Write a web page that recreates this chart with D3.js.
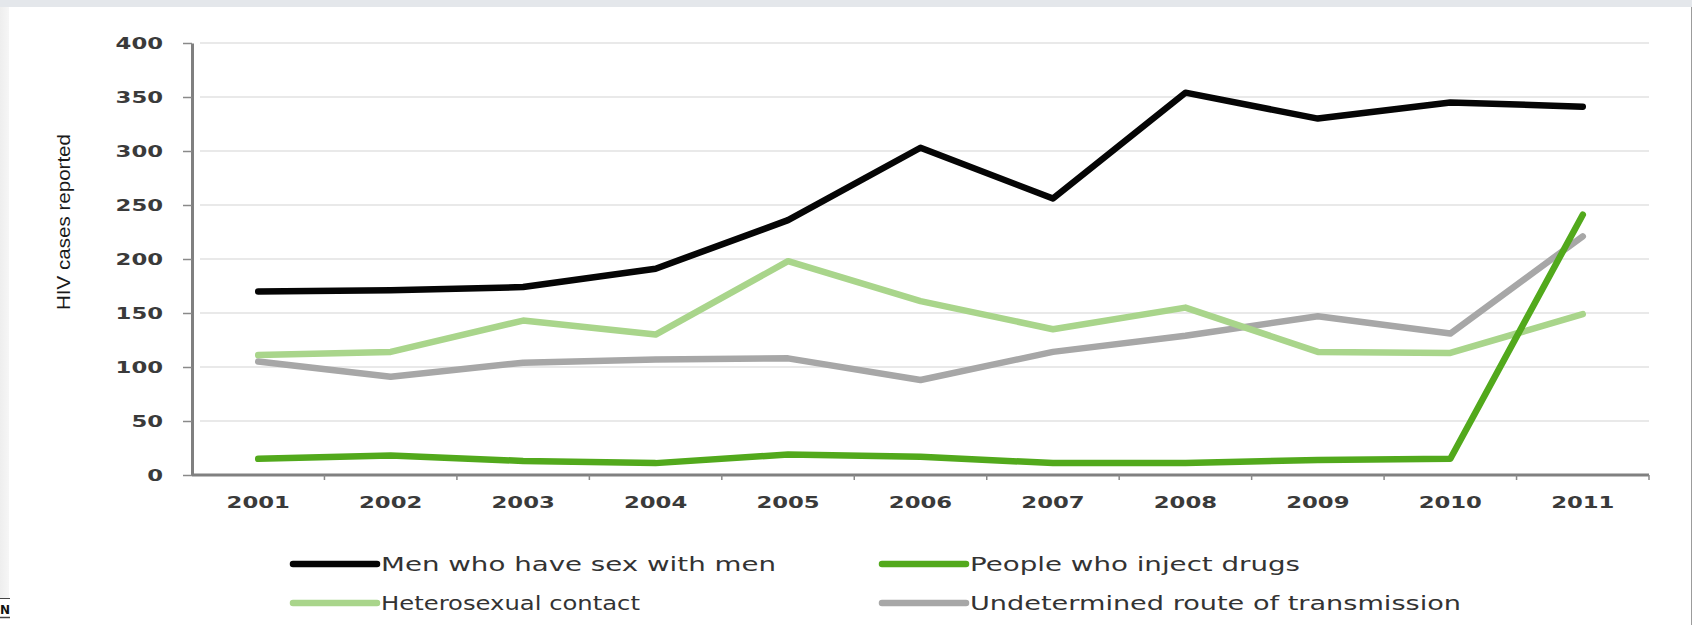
<!DOCTYPE html>
<html>
<head>
<meta charset="utf-8">
<script src="https://cdn.jsdelivr.net/npm/d3@7"></script>
<style>
  html, body { margin: 0; padding: 0; background: #fff; }
  svg { display: block; }
</style>
</head>
<body>
<svg id="chart" width="1692" height="625"></svg>
<script>
// Reported HIV cases by route of transmission, 2001-2011
const years = ["2001","2002","2003","2004","2005","2006","2007","2008","2009","2010","2011"];
const msm          = [170, 171, 174, 191, 236, 303, 256, 354, 330, 345, 341];
const injectDrugs  = [15, 18, 13, 11, 19, 17, 11, 11, 14, 15, 241];
const heterosexual = [111, 114, 143, 130, 198, 161, 135, 155, 114, 113, 149];
const undetermined = [105, 91, 104, 107, 108, 88, 114, 129, 147, 131, 221];
const yTicks = [0, 50, 100, 150, 200, 250, 300, 350, 400];

const seriesNames  = ["Men who have sex with men", "People who inject drugs",
                      "Heterosexual contact", "Undetermined route of transmission"];
const seriesValues = [msm, injectDrugs, heterosexual, undetermined];
const seriesColors = ["#050505", "#52a91c", "#a9d58b", "#a7a7a7"];

const svg = d3.select("#chart");
const W = 1692, H = 625;

// page frame behind the chart
const defs = svg.append("defs");
const grad = defs.append("linearGradient").attr("id", "edgeShade")
  .attr("x1", 0).attr("x2", 1).attr("y1", 0).attr("y2", 0);
grad.append("stop").attr("offset", 0).attr("stop-color", "#eeeeee");
grad.append("stop").attr("offset", 1).attr("stop-color", "#f6f6f6");
svg.append("rect").attr("width", W).attr("height", H).attr("fill", "#ffffff");
svg.append("rect").attr("x", 0).attr("y", 0).attr("width", 9).attr("height", 598).attr("fill", "url(#edgeShade)");
svg.append("rect").attr("x", 0).attr("y", 0).attr("width", W).attr("height", 7).attr("fill", "#e4e7eb");
svg.append("line").attr("x1", 1691.5).attr("x2", 1691.5).attr("y1", 7).attr("y2", H)
  .attr("stroke", "#9c9c9c").attr("stroke-width", 1);
svg.append("line").attr("x1", 0).attr("x2", 10).attr("y1", 598.5).attr("y2", 598.5).attr("stroke", "#444").attr("stroke-width", 1);
svg.append("line").attr("x1", 0).attr("x2", 10).attr("y1", 617.5).attr("y2", 617.5).attr("stroke", "#444").attr("stroke-width", 1.5);
svg.append("text").attr("x", 0).attr("y", 614).attr("font-family", "DejaVu Sans").attr("font-weight", "bold")
  .attr("font-size", 12).attr("fill", "#111").text("N");

// plot area
const plotLeft = 192, plotRight = 1649, plotTop = 43, plotBottom = 475;
const x = d3.scaleBand().domain(years).range([plotLeft, plotRight]).paddingInner(0).paddingOuter(0);
const y = d3.scaleLinear().domain([0, 400]).range([plotBottom, plotTop]);
const STRETCH = 1.42;

// horizontal gridlines
svg.append("g").selectAll("line").data(yTicks.filter(d => d > 0)).join("line")
  .attr("x1", plotLeft + 8).attr("x2", plotRight)
  .attr("y1", d => y(d)).attr("y2", d => y(d))
  .attr("stroke", "#e9e9e9").attr("stroke-width", 2);

// y axis
const yAxis = svg.append("g").attr("transform", `translate(${plotLeft},0)`)
  .call(d3.axisLeft(y).tickValues(yTicks).tickSize(9).tickPadding(20).tickSizeOuter(0));
yAxis.select(".domain").attr("stroke", "#808080").attr("stroke-width", 3);
yAxis.selectAll(".tick line").attr("stroke", "#8a8a8a").attr("stroke-width", 1.5);
yAxis.selectAll(".tick text")
  .attr("font-family", "DejaVu Sans").attr("font-weight", "bold").attr("font-size", 16)
  .attr("fill", "#3a3a3a").attr("dy", "0.36em");

// x axis: ticks at category boundaries, labels at centres
const xAxisG = svg.append("g").attr("transform", `translate(0,${plotBottom})`);
xAxisG.append("line").attr("x1", plotLeft).attr("x2", plotRight).attr("stroke", "#808080").attr("stroke-width", 3);
const bounds = years.map(d => x(d)).slice(1).concat([plotRight]);
xAxisG.selectAll("line.tk").data(bounds).join("line").attr("class", "tk")
  .attr("x1", d => d).attr("x2", d => d).attr("y1", 0).attr("y2", 5)
  .attr("stroke", "#8a8a8a").attr("stroke-width", 1.5);
xAxisG.selectAll("text").data(years).join("text")
  .attr("x", d => x(d) + x.bandwidth() / 2).attr("y", 33)
  .attr("text-anchor", "middle")
  .attr("font-family", "DejaVu Sans").attr("font-weight", "bold").attr("font-size", 16)
  .attr("fill", "#3a3a3a").text(d => d);

// widen tick labels
function widen(sel) {
  sel.each(function() {
    this.setAttribute("textLength", this.getComputedTextLength() * STRETCH);
    this.setAttribute("lengthAdjust", "spacingAndGlyphs");
  });
}
widen(yAxis.selectAll(".tick text"));
widen(xAxisG.selectAll("text"));

// y axis title
svg.append("text")
  .attr("transform", `translate(70,222) rotate(-90)`)
  .attr("text-anchor", "middle")
  .attr("font-family", "Liberation Sans Narrow, Liberation Sans").attr("font-size", 19)
  .attr("fill", "#1a1a1a")
  .attr("textLength", 176).attr("lengthAdjust", "spacingAndGlyphs")
  .text("HIV cases reported");

// series lines
const line = d3.line()
  .x((d, i) => x(years[i]) + x.bandwidth() / 2)
  .y(d => y(d));
const drawOrder = [3, 2, 0, 1];
svg.append("g").selectAll("path").data(drawOrder).join("path")
  .attr("d", k => line(seriesValues[k]))
  .attr("fill", "none")
  .attr("stroke", k => seriesColors[k])
  .attr("stroke-width", 6.5)
  .attr("stroke-linejoin", "round")
  .attr("stroke-linecap", "round");

// legend
const legendPos = [
  { lx: 293, ty: 564, w: 395 },
  { lx: 882, ty: 564, w: 330 },
  { lx: 293, ty: 603, w: 259 },
  { lx: 882, ty: 603, w: 491 }
];
const lg = svg.append("g").selectAll("g").data(seriesNames).join("g");
lg.append("line")
  .attr("x1", (d, i) => legendPos[i].lx).attr("x2", (d, i) => legendPos[i].lx + 84)
  .attr("y1", (d, i) => legendPos[i].ty).attr("y2", (d, i) => legendPos[i].ty)
  .attr("stroke", (d, i) => seriesColors[i]).attr("stroke-width", 6.5).attr("stroke-linecap", "round");
lg.append("text")
  .attr("x", (d, i) => legendPos[i].lx + 88).attr("y", (d, i) => legendPos[i].ty)
  .attr("dy", "0.36em")
  .attr("font-family", "DejaVu Sans").attr("font-size", 19)
  .attr("fill", "#333")
  .attr("textLength", (d, i) => legendPos[i].w).attr("lengthAdjust", "spacingAndGlyphs")
  .text(d => d);
</script>
</body>
</html>
